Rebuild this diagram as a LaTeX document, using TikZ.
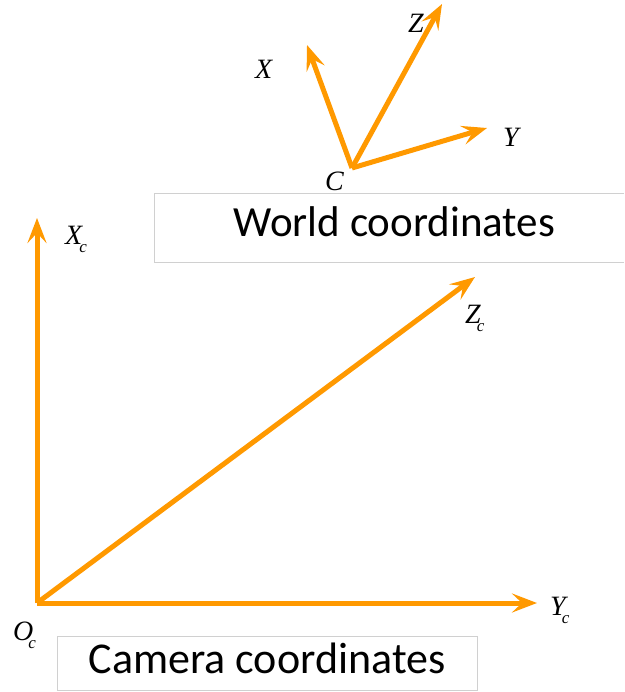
\documentclass[tikz,border=0pt]{standalone}
\usepackage{fontspec}
\setmainfont{Carlito}
\newfontfamily\tms{Liberation Serif}
\usetikzlibrary{arrows.meta}
\definecolor{axisorange}{RGB}{255,153,0}
\definecolor{boxgray}{RGB}{208,208,208}
\newcommand{\axlab}[1]{{\tms\itshape\fontsize{28}{28}\selectfont #1}}
\newcommand{\axsub}[3]{{\tms\itshape\fontsize{28}{28}\selectfont #1\kern#3\raisebox{-8pt}{\fontsize{17}{17}\selectfont #2}}}
\begin{document}
\begin{tikzpicture}[x=1pt,y=-1pt,
  axis/.style={draw=axisorange,line width=5pt,-{Stealth[length=25pt,width=19pt,inset=10pt]}},
  lab/.style={anchor=base west,inner sep=0pt},
  boxline/.style={draw=boxgray,line width=1pt},
  capbox/.style={boxline,inner sep=0pt,font=\fontsize{41}{41}\selectfont}]
\useasboundingbox (0,0) rectangle (624,692);
\fill[white] (0,0) rectangle (624,692);
% world axes
\coordinate (C) at (352,168);
\coordinate (Xw) at (307,45);
\coordinate (Zw) at (442,4);
\coordinate (Yw) at (487,128);
\draw[axis] (C) -- (Xw);
\draw[axis] (C) -- (Zw);
\draw[axis] (C) -- (Yw);
\node[lab] (lX) at (255,79) {\axlab{X}};
\node[lab] (lZ) at (408,33) {\axlab{Z}};
\node[lab] (lY) at (503,147) {\axlab{Y}};
\node[lab] (lC) at (325,191) {\axlab{C}};
% world box (open to the right edge)
\node[inner sep=0pt,minimum width=469pt,minimum height=68pt,text depth=13pt,font=\fontsize{43}{43}\selectfont] (world) at (389.5,228) {\kern10pt World coordinates};
\draw[boxline] (world.north east) -- (world.north west) -- (world.south west) -- (world.south east);
% camera axes
\coordinate (O) at (37,603);
\coordinate (Xc) at (37,218);
\coordinate (Yc) at (537,603);
\coordinate (Zc) at (475,277);
\draw[axis] (O) -- (Xc);
\draw[axis] (O) -- (Yc);
\draw[axis] (O) -- (Zc);
\node[lab] (lXc) at (65,245) {\axsub{X}{c}{-3pt}};
\node[lab] (lZc) at (465,323) {\axsub{Z}{c}{-4pt}};
\node[lab] (lYc) at (550,615) {\axsub{Y}{c}{-4pt}};
\node[lab] (lOc) at (13,640) {\axsub{O}{c}{-5pt}};
% camera box
\node[capbox,minimum width=420pt,minimum height=54pt,text depth=9pt,font=\fontsize{44}{44}\selectfont] (camera) at (267,663) {Camera coordinates};
\end{tikzpicture}
\end{document}
